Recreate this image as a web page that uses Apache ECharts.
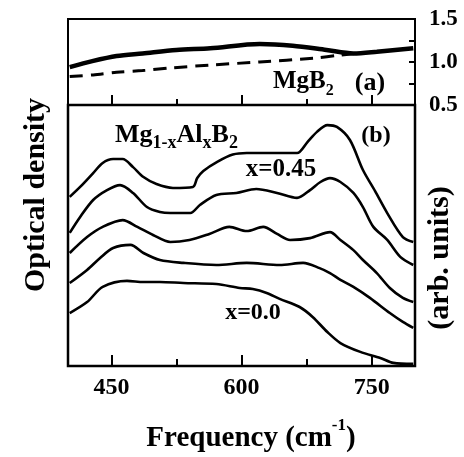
<!DOCTYPE html>
<html>
<head>
<meta charset="utf-8">
<script src="https://cdn.jsdelivr.net/npm/echarts@6/dist/echarts.min.js"></script>
<style>
  html, body { margin: 0; padding: 0; background: #fff; }
  #chart { width: 464px; height: 457px; }
</style>
</head>
<body>
<div id="chart"></div>
<script>
// ticks / labels
const xMajorTicks = [450, 600, 750];
const xMinorTicks = [525, 675];
const yLabelsA = [0.5, 1.0, 1.5];
const yTicksA = [0.75, 1.0, 1.25];

// panel (a): MgB2, optical density
const mgb2Solid = [[402, 0.94], [428, 1.01], [456, 1.07], [486, 1.10], [525, 1.14], [564, 1.16], [621, 1.21],
  [659, 1.19], [698, 1.14], [729, 1.10], [756, 1.12], [798, 1.16]];
const mgb2Dashed = [[402, 0.83], [429, 0.85], [456, 0.88], [486, 0.90], [517, 0.93], [564, 0.965], [621, 1.0],
  [683, 1.045], [714, 1.08], [730, 1.10]];

// panel (b): Mg1-xAlxB2, arb. units (top curve x=0.45 ... bottom x=0.0)
const curveX045 = [[402, 64.8], [414, 68.6], [429, 73.9], [440, 77.8], [452, 79.3], [463, 79.3], [475, 76.2],
  [487, 72.4], [502, 69.7], [521, 68.2], [544, 68.6], [549, 72.0], [556, 74.7], [572, 78.2], [590, 81.0],
  [606, 81.6], [625, 81.6], [644, 81.6], [664, 81.6], [676, 85.8], [687, 89.7], [699, 92.3], [710, 91.6],
  [725, 86.6], [740, 75.1], [754, 67.0], [768, 58.6], [786, 49.4], [798, 47.5]];
const curve2 = [[402, 51.0], [414, 57.1], [429, 63.6], [445, 67.4], [460, 69.3], [475, 66.3], [491, 60.9],
  [506, 59.0], [518, 58.6], [541, 58.6], [552, 61.7], [571, 65.5], [594, 66.3], [617, 67.8], [641, 66.3],
  [664, 64.4], [679, 67.4], [691, 70.5], [702, 72.0], [714, 70.5], [729, 66.3], [740, 60.9], [752, 53.3],
  [768, 48.3], [783, 41.8], [798, 38.7]];
const curve3 = [[402, 43.3], [422, 49.4], [440, 53.3], [463, 55.9], [480, 53.3], [498, 50.2], [518, 47.5],
  [540, 48.3], [563, 50.6], [586, 53.3], [606, 51.7], [625, 53.3], [641, 50.6], [656, 48.3], [679, 49.0],
  [702, 51.3], [714, 48.3], [729, 44.4], [740, 40.6], [756, 35.6], [771, 29.9], [786, 26.1], [798, 24.5]];
const curve4 = [[402, 31.8], [422, 36.8], [437, 41.4], [452, 45.2], [472, 46.4], [487, 43.3], [506, 40.6],
  [533, 39.5], [571, 38.7], [606, 39.5], [644, 38.7], [671, 39.5], [690, 37.5], [702, 35.6], [714, 33.0],
  [729, 30.3], [748, 26.1], [771, 20.3], [786, 16.9], [798, 14.6]];
const curveX000 = [[402, 20.3], [422, 24.5], [440, 30.3], [468, 32.6], [487, 32.2], [506, 32.2], [533, 31.8],
  [571, 31.4], [598, 29.9], [613, 29.5], [629, 28.0], [644, 25.7], [667, 22.6], [682, 18.8], [699, 13.0],
  [714, 8.8], [737, 5.4], [760, 3.1], [775, 1.2], [798, 0.8]];

const FONT = 'Liberation Serif';
const chart = echarts.init(document.getElementById('chart'));

function xAxisFor(gridIndex, ticks, len, labels) {
  return {
    type: 'value', gridIndex: gridIndex, min: 400, max: 800, position: 'bottom',
    axisLine: { show: false },
    axisTick: { show: true, inside: true, length: len, customValues: ticks, lineStyle: { color: '#000', width: 2 } },
    axisLabel: labels ? {
      show: true, customValues: labels, margin: 10,
      color: '#000', fontFamily: FONT, fontWeight: 'bold', fontSize: 24
    } : { show: false },
    splitLine: { show: false }
  };
}

function line(data, xi, yi, width, type) {
  return {
    type: 'line', data: data, xAxisIndex: xi, yAxisIndex: yi, showSymbol: false, smooth: 0.3,
    lineStyle: { color: '#000', width: width, type: type || 'solid' }, animation: false
  };
}

const option = {
  animation: false,
  grid: [
    { left: 68, right: 49, top: 19, height: 86, show: true, borderColor: '#000', borderWidth: 2 },
    { left: 68, right: 49, top: 105, height: 261, show: true, borderColor: '#000', borderWidth: 2.5 }
  ],
  xAxis: [
    xAxisFor(0, xMajorTicks, 10),
    xAxisFor(1, xMajorTicks, 11, xMajorTicks),
    xAxisFor(0, xMinorTicks, 6),
    xAxisFor(1, xMinorTicks, 7)
  ],
  yAxis: [
    {
      type: 'value', gridIndex: 0, position: 'right', min: 0.5, max: 1.5, interval: 0.25,
      axisLine: { show: false },
      axisTick: { show: true, inside: true, length: 6, customValues: yTicksA, lineStyle: { color: '#000', width: 2 } },
      axisLabel: {
        show: true, customValues: yLabelsA, margin: 14, color: '#000',
        fontFamily: FONT, fontWeight: 'bold', fontSize: 23,
        formatter: function (v) { return v.toFixed(1); }
      },
      splitLine: { show: false }
    },
    {
      type: 'value', gridIndex: 1, min: 0, max: 100,
      axisLine: { show: false }, axisTick: { show: false }, axisLabel: { show: false }, splitLine: { show: false }
    }
  ],
  series: [
    line(mgb2Dashed, 0, 0, 3, [13, 8]),
    line(mgb2Solid, 0, 0, 4.5),
    line(curveX045, 1, 1, 2.6),
    line(curve2, 1, 1, 2.6),
    line(curve3, 1, 1, 2.6),
    line(curve4, 1, 1, 2.6),
    line(curveX000, 1, 1, 2.6)
  ],
  graphic: [
    {
      type: 'text', x: 36, y: 195, rotation: Math.PI / 2,
      style: { text: 'Optical density', fill: '#000', font: 'bold 30px "Liberation Serif"', align: 'center', verticalAlign: 'middle' }
    },
    {
      type: 'text', x: 440, y: 258, rotation: Math.PI / 2,
      style: { text: '(arb. units)', fill: '#000', font: 'bold 30px "Liberation Serif"', align: 'center', verticalAlign: 'middle' }
    },
    {
      type: 'text', x: 251, y: 435,
      style: {
        text: '{a|Frequency (cm}{p|-1}{a|)}', align: 'center', verticalAlign: 'middle',
        rich: {
          a: { fill: '#000', fontFamily: FONT, fontWeight: 'bold', fontSize: 29, lineHeight: 36, verticalAlign: 'bottom' },
          p: { fill: '#000', fontFamily: FONT, fontWeight: 'bold', fontSize: 17, lineHeight: 17, verticalAlign: 'top' }
        }
      }
    },
    {
      type: 'text', x: 273, y: 84,
      style: {
        text: '{a|MgB}{s|2}', align: 'left', verticalAlign: 'middle',
        rich: {
          a: { fill: '#000', fontFamily: FONT, fontWeight: 'bold', fontSize: 25, lineHeight: 29, verticalAlign: 'top' },
          s: { fill: '#000', fontFamily: FONT, fontWeight: 'bold', fontSize: 16, lineHeight: 16, verticalAlign: 'bottom' }
        }
      }
    },
    {
      type: 'text', x: 370, y: 83,
      style: { text: '(a)', fill: '#000', font: 'bold 26px "Liberation Serif"', align: 'center', verticalAlign: 'middle' }
    },
    {
      type: 'text', x: 115, y: 137,
      style: {
        text: '{a|Mg}{s|1-x}{a|Al}{s|x}{a|B}{s|2}', align: 'left', verticalAlign: 'middle',
        rich: {
          a: { fill: '#000', fontFamily: FONT, fontWeight: 'bold', fontSize: 26, lineHeight: 30, verticalAlign: 'top' },
          s: { fill: '#000', fontFamily: FONT, fontWeight: 'bold', fontSize: 18, lineHeight: 18, verticalAlign: 'bottom' }
        }
      }
    },
    {
      type: 'text', x: 376, y: 136,
      style: { text: '(b)', fill: '#000', font: 'bold 24px "Liberation Serif"', align: 'center', verticalAlign: 'middle' }
    },
    {
      type: 'text', x: 281, y: 170,
      style: { text: 'x=0.45', fill: '#000', font: 'bold 25px "Liberation Serif"', align: 'center', verticalAlign: 'middle' }
    },
    {
      type: 'text', x: 253, y: 313,
      style: { text: 'x=0.0', fill: '#000', font: 'bold 24px "Liberation Serif"', align: 'center', verticalAlign: 'middle' }
    }
  ]
};

chart.setOption(option);
</script>
</body>
</html>
